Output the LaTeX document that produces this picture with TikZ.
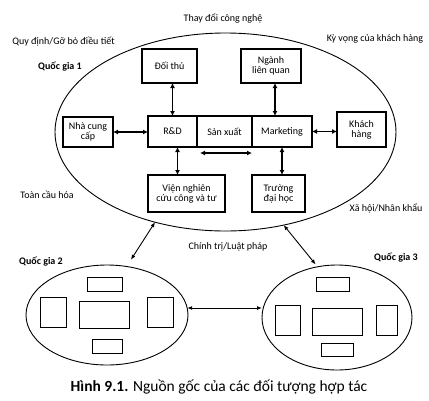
\documentclass[tikz,border=0pt]{standalone}
\usepackage{fontspec}
\setmainfont{Carlito}
\usetikzlibrary{arrows.meta,positioning,shapes.geometric,calc}
\tikzset{
  boxy/.style     = {draw=black, line width=1.1pt, outer sep=0pt, align=center,
                     inner sep=1pt, font=\fontsize{10}{10}\selectfont},
  blankbox/.style = {draw=black, line width=1pt, outer sep=0pt, inner sep=0pt},
  land/.style     = {ellipse, draw=black, line width=0.9pt, inner sep=0pt, outer sep=0pt},
  tag/.style      = {inner sep=0pt, font=\fontsize{10}{11}\selectfont},
  tagbold/.style  = {inner sep=0pt, font=\fontsize{10}{11}\selectfont\bfseries},
  flow/.style     = {{Latex[length=5pt,width=5pt]}-{Latex[length=5pt,width=5pt]}, line width=1.3pt},
  flowthin/.style = {{Latex[length=5pt,width=4pt]}-{Latex[length=5pt,width=4pt]}, line width=0.9pt},
}
\begin{document}
\begin{tikzpicture}[x=1pt,y=-1pt]
  \useasboundingbox (0,0) rectangle (429,400);
  % quoc gia 1
  \node[land, minimum width=341, minimum height=198] (qg1) at (225.5,132) {};
  \node[boxy, minimum width=55, minimum height=34] (dt) at (169.5,66) {Đối thủ};
  \node[boxy, minimum width=60, minimum height=34] (ng) at (271,66) {Ngành\\liên quan};
  \node[boxy, minimum width=50, minimum height=30] (ncc) at (88,132) {Nhà cung\\cấp};
  \node[boxy, minimum width=49, minimum height=31] (rd) at (172.5,131.5) {R\&D};
  \node[boxy, minimum width=55, minimum height=31, right=0pt of rd] (sx) {Sản xuất};
  \node[boxy, minimum width=60, minimum height=31, right=0pt of sx] (mk) {Marketing};
  \node[boxy, minimum width=49, minimum height=35] (kh) at (361.5,129.5) {Khách\\hàng};
  \node[boxy, minimum width=77, minimum height=37] (vn) at (186.5,193.5) {Viện nghiên\\cứu công và tư};
  \node[boxy, minimum width=53, minimum height=37] (dh) at (278.5,193.5) {Trường\\đại học};

  \draw[flow] (dt.south -| rd.north) -- (rd.north);
  \draw[flow] ([xshift=4pt]ng.south) -- ([xshift=4pt]ng.south |- mk.north);
  \draw[flow] (ncc.east) -- (ncc.east -| rd.west);
  \draw[flow] (mk.east) -- (mk.east -| kh.west);
  \draw[flow] ([xshift=5pt]rd.south) -- ([xshift=5pt]rd.south |- vn.north);
  \draw[flow] (mk.south) -- (mk.south |- dh.north);
  \draw[flow] ($(sx.south west)+(3,6)$) -- ($(sx.south east)+(0,6)$);

  % cac yeu to ben ngoai
  \node[tag] (tcn) at (223,18) {Thay đổi công nghệ};
  \node[tag] (tqd) at (63.5,42) {Quy định/Gỡ bỏ điều tiết};
  \node[tagbold] (tq1) at (60,67) {Quốc gia 1};
  \node[tag] (tkv) at (375,39) {Kỳ vọng của khách hàng};
  \node[tag] (tch) at (47,195) {Toàn cầu hóa};
  \node[tag] (txh) at (386,208) {Xã hội/Nhân khẩu};
  \node[tag] (tct) at (228,247) {Chính trị/Luật pháp};

  % quoc gia 2
  \node[tagbold] (tq2) at (41,262) {Quốc gia 2};
  \node[land, minimum width=162, minimum height=100] (qg2) at (107,315) {};
  \node[blankbox, minimum width=35, minimum height=14] (q2t) at (104.5,284) {};
  \node[blankbox, minimum width=26, minimum height=30] (q2l) at (53,312) {};
  \node[blankbox, minimum width=50, minimum height=27] (q2c) at (104,314.5) {};
  \node[blankbox, minimum width=26, minimum height=30] (q2r) at (160,312) {};
  \node[blankbox, minimum width=30, minimum height=14] (q2b) at (107,346) {};

  % quoc gia 3
  \node[tagbold] (tq3) at (396,258) {Quốc gia 3};
  \node[land, minimum width=150, minimum height=105] (qg3) at (337,317.5) {};
  \node[blankbox, minimum width=33, minimum height=14] (q3t) at (332.5,284) {};
  \node[blankbox, minimum width=25, minimum height=30] (q3l) at (287.5,320) {};
  \node[blankbox, minimum width=50, minimum height=27] (q3c) at (337,321.5) {};
  \node[blankbox, minimum width=21, minimum height=30] (q3r) at (386.5,320) {};
  \node[blankbox, minimum width=32, minimum height=13] (q3b) at (337,349.5) {};

  \draw[flowthin, shorten >=8pt] (qg1.-128) -- (qg2.68);
  \draw[flowthin, shorten >=3pt] (qg1.-58) -- (qg3.111);
  \draw[flowthin] (qg2.5) -- (qg2.5 -| qg3.west);

  \node[font=\fontsize{15.5}{17}\selectfont] (cap) at (219,387)
    {\textbf{Hình 9.1.} Nguồn gốc của các đối tượng hợp tác};
\end{tikzpicture}
\end{document}
